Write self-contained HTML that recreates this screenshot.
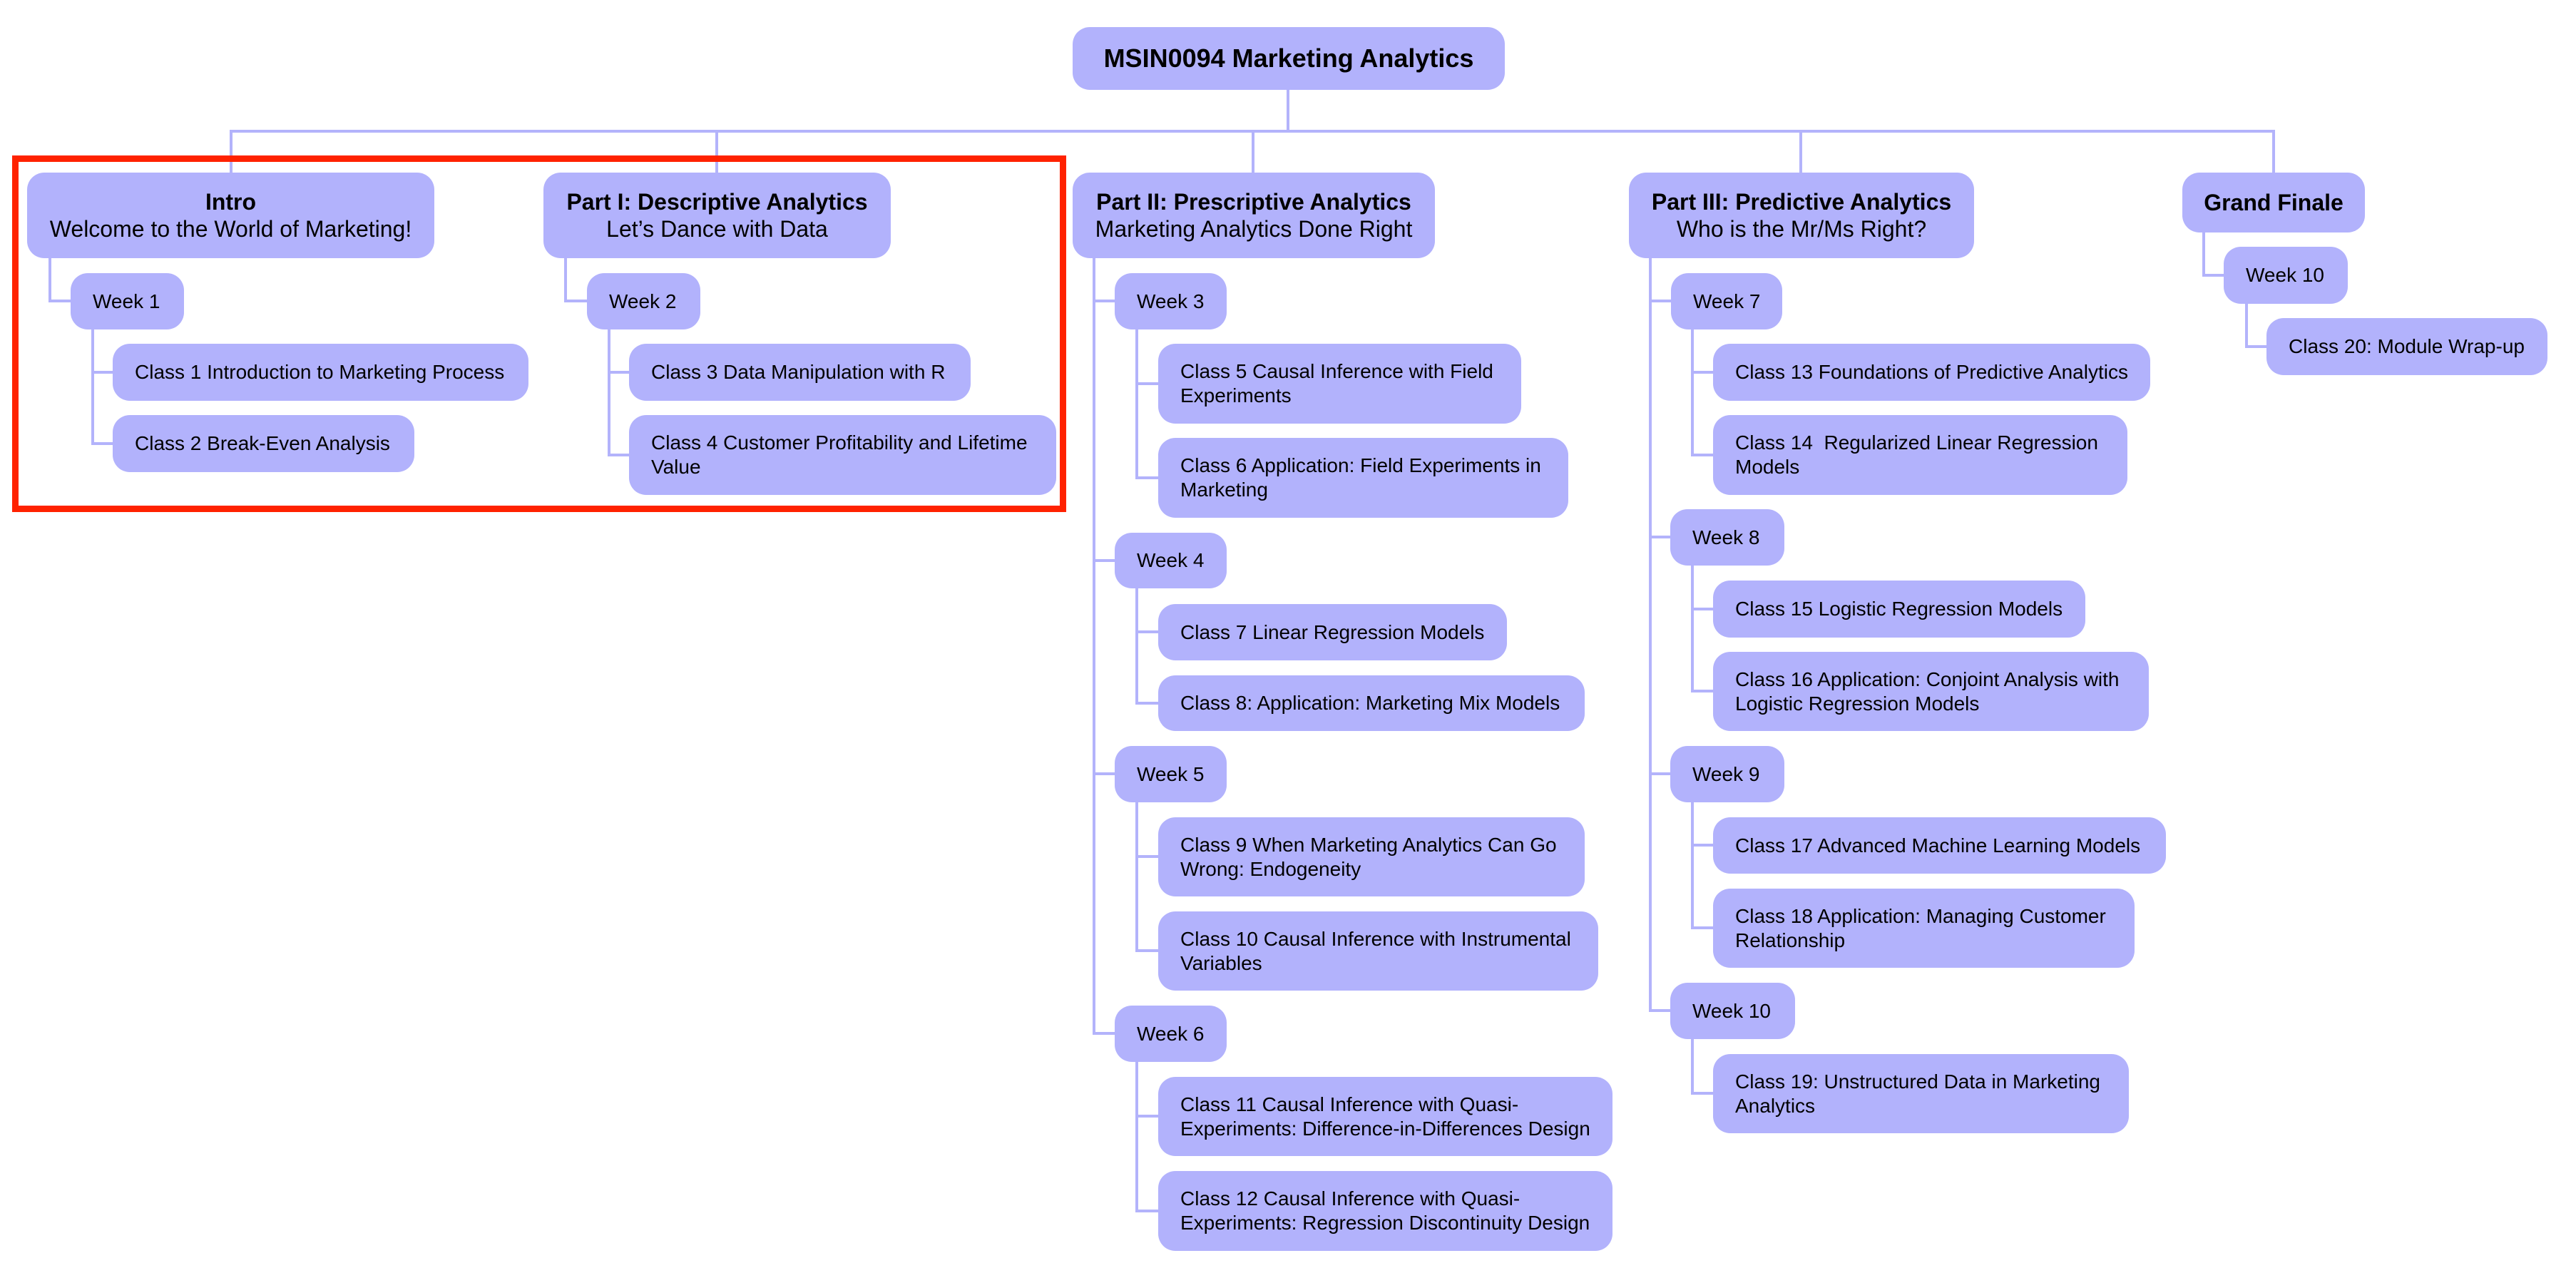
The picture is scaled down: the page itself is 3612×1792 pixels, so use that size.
<!DOCTYPE html>
<html><head><meta charset="utf-8"><style>
html,body{margin:0;padding:0;background:#fff;}
body{width:3612px;height:1792px;position:relative;overflow:hidden;font-family:"Liberation Sans",Arial,sans-serif;}
.b{position:absolute;background:#b2b2fc;border-radius:24px;box-sizing:border-box;display:flex;align-items:center;color:#000;font-size:28px;line-height:34px;padding-left:31px;padding-right:20px;}
.t{justify-content:center;text-align:center;padding:0 20px;font-size:32px;line-height:38px;}
.t b{font-weight:bold;}
.v{position:absolute;width:4px;background:#b3b3fb;}
.h{position:absolute;height:4px;background:#b3b3fb;}
.red{position:absolute;left:17px;top:218px;width:1478px;height:500px;border:9px solid #ff2200;box-sizing:border-box;}
</style></head><body>

<!-- connectors top -->
<div class="v" style="left:1804px;top:126px;height:60px"></div>
<div class="h" style="left:322px;top:182px;width:2868px"></div>
<div class="v" style="left:322px;top:182px;height:60px"></div>
<div class="v" style="left:1003px;top:182px;height:60px"></div>
<div class="v" style="left:1755px;top:182px;height:60px"></div>
<div class="v" style="left:2523px;top:182px;height:60px"></div>
<div class="v" style="left:3186px;top:182px;height:60px"></div>

<!-- Intro -->
<div class="v" style="left:68px;top:362px;height:62px"></div>
<div class="h" style="left:68px;top:420px;width:31px"></div>
<div class="v" style="left:128px;top:462px;height:162px"></div>
<div class="h" style="left:128px;top:520px;width:30px"></div>
<div class="h" style="left:128px;top:620px;width:30px"></div>
<!-- Part I -->
<div class="v" style="left:791px;top:362px;height:62px"></div>
<div class="h" style="left:791px;top:420px;width:32px"></div>
<div class="v" style="left:852px;top:462px;height:178px"></div>
<div class="h" style="left:852px;top:520px;width:30px"></div>
<div class="h" style="left:852px;top:636px;width:30px"></div>
<!-- Part II -->
<div class="v" style="left:1532px;top:362px;height:1089px"></div>
<div class="h" style="left:1532px;top:420px;width:31px"></div>
<div class="h" style="left:1532px;top:784px;width:31px"></div>
<div class="h" style="left:1532px;top:1083px;width:31px"></div>
<div class="h" style="left:1532px;top:1447px;width:31px"></div>
<div class="v" style="left:1592px;top:462px;height:210px"></div>
<div class="h" style="left:1592px;top:536px;width:32px"></div>
<div class="h" style="left:1592px;top:668px;width:32px"></div>
<div class="v" style="left:1592px;top:825px;height:163px"></div>
<div class="h" style="left:1592px;top:884px;width:32px"></div>
<div class="h" style="left:1592px;top:984px;width:32px"></div>
<div class="v" style="left:1592px;top:1125px;height:210px"></div>
<div class="h" style="left:1592px;top:1199px;width:32px"></div>
<div class="h" style="left:1592px;top:1331px;width:32px"></div>
<div class="v" style="left:1592px;top:1489px;height:211px"></div>
<div class="h" style="left:1592px;top:1563px;width:32px"></div>
<div class="h" style="left:1592px;top:1696px;width:32px"></div>
<!-- Part III -->
<div class="v" style="left:2312px;top:362px;height:1057px"></div>
<div class="h" style="left:2312px;top:420px;width:31px"></div>
<div class="h" style="left:2312px;top:751px;width:31px"></div>
<div class="h" style="left:2312px;top:1083px;width:31px"></div>
<div class="h" style="left:2312px;top:1415px;width:31px"></div>
<div class="v" style="left:2371px;top:462px;height:178px"></div>
<div class="h" style="left:2371px;top:520px;width:31px"></div>
<div class="h" style="left:2371px;top:636px;width:31px"></div>
<div class="v" style="left:2371px;top:793px;height:178px"></div>
<div class="h" style="left:2371px;top:852px;width:31px"></div>
<div class="h" style="left:2371px;top:967px;width:31px"></div>
<div class="v" style="left:2371px;top:1125px;height:178px"></div>
<div class="h" style="left:2371px;top:1183px;width:31px"></div>
<div class="h" style="left:2371px;top:1299px;width:31px"></div>
<div class="v" style="left:2371px;top:1457px;height:78px"></div>
<div class="h" style="left:2371px;top:1531px;width:31px"></div>
<!-- Grand Finale -->
<div class="v" style="left:3088px;top:326px;height:62px"></div>
<div class="h" style="left:3088px;top:384px;width:30px"></div>
<div class="v" style="left:3148px;top:426px;height:62px"></div>
<div class="h" style="left:3148px;top:484px;width:30px"></div>

<!-- boxes -->
<div class="b t" style="left:1504px;top:38px;width:606px;height:88px;font-size:36px"><b>MSIN0094 Marketing Analytics</b></div>
<div class="b t" style="left:38px;top:242px;width:571px;height:120px"><div><b>Intro</b><br>Welcome to the World of Marketing!</div></div>
<div class="b t" style="left:762px;top:242px;width:487px;height:120px"><div><b>Part I: Descriptive Analytics</b><br>Let’s Dance with Data</div></div>
<div class="b t" style="left:1504px;top:242px;width:508px;height:120px"><div><b>Part II: Prescriptive Analytics</b><br>Marketing Analytics Done Right</div></div>
<div class="b t" style="left:2284px;top:242px;width:484px;height:120px"><div><b>Part III: Predictive Analytics</b><br>Who is the Mr/Ms Right?</div></div>
<div class="b t" style="left:3060px;top:242px;width:256px;height:84px"><b>Grand Finale</b></div>

<div class="b" style="left:99px;top:383px;width:159px;height:79px">Week 1</div>
<div class="b" style="left:158px;top:482px;width:583px;height:80px">Class 1 Introduction to Marketing Process</div>
<div class="b" style="left:158px;top:582px;width:423px;height:80px">Class 2 Break-Even Analysis</div>
<div class="b" style="left:823px;top:383px;width:159px;height:79px">Week 2</div>
<div class="b" style="left:882px;top:482px;width:479px;height:80px">Class 3 Data Manipulation with R</div>
<div class="b" style="left:882px;top:582px;width:599px;height:112px">Class 4 Customer Profitability and Lifetime Value</div>

<div class="b" style="left:1563px;top:383px;width:157px;height:79px">Week 3</div>
<div class="b" style="left:1624px;top:482px;width:509px;height:112px">Class 5 Causal Inference with Field Experiments</div>
<div class="b" style="left:1624px;top:614px;width:575px;height:112px">Class 6 Application: Field Experiments in Marketing</div>
<div class="b" style="left:1563px;top:747px;width:157px;height:78px">Week 4</div>
<div class="b" style="left:1624px;top:847px;width:489px;height:79px">Class 7 Linear Regression Models</div>
<div class="b" style="left:1624px;top:947px;width:598px;height:78px">Class 8: Application: Marketing Mix Models</div>
<div class="b" style="left:1563px;top:1046px;width:157px;height:79px">Week 5</div>
<div class="b" style="left:1624px;top:1146px;width:598px;height:111px">Class 9 When Marketing Analytics Can Go Wrong: Endogeneity</div>
<div class="b" style="left:1624px;top:1278px;width:617px;height:111px">Class 10 Causal Inference with Instrumental Variables</div>
<div class="b" style="left:1563px;top:1410px;width:157px;height:79px">Week 6</div>
<div class="b" style="left:1624px;top:1510px;width:637px;height:111px">Class 11 Causal Inference with Quasi-Experiments: Difference-in-Differences Design</div>
<div class="b" style="left:1624px;top:1642px;width:637px;height:112px">Class 12 Causal Inference with Quasi-Experiments: Regression Discontinuity Design</div>

<div class="b" style="left:2343px;top:383px;width:156px;height:79px">Week 7</div>
<div class="b" style="left:2402px;top:482px;width:613px;height:80px">Class 13 Foundations of Predictive Analytics</div>
<div class="b" style="left:2402px;top:582px;width:581px;height:112px">Class 14&nbsp; Regularized Linear Regression Models</div>
<div class="b" style="left:2342px;top:714px;width:160px;height:79px">Week 8</div>
<div class="b" style="left:2402px;top:814px;width:522px;height:80px">Class 15 Logistic Regression Models</div>
<div class="b" style="left:2402px;top:914px;width:611px;height:111px">Class 16 Application: Conjoint Analysis with Logistic Regression Models</div>
<div class="b" style="left:2342px;top:1046px;width:160px;height:79px">Week 9</div>
<div class="b" style="left:2402px;top:1146px;width:635px;height:79px">Class 17 Advanced Machine Learning Models</div>
<div class="b" style="left:2402px;top:1246px;width:591px;height:111px">Class 18 Application: Managing Customer Relationship</div>
<div class="b" style="left:2342px;top:1378px;width:175px;height:79px">Week 10</div>
<div class="b" style="left:2402px;top:1478px;width:583px;height:111px">Class 19: Unstructured Data in Marketing Analytics</div>

<div class="b" style="left:3118px;top:346px;width:174px;height:80px">Week 10</div>
<div class="b" style="left:3178px;top:446px;width:394px;height:80px">Class 20: Module Wrap-up</div>

<div class="red"></div>
</body></html>
